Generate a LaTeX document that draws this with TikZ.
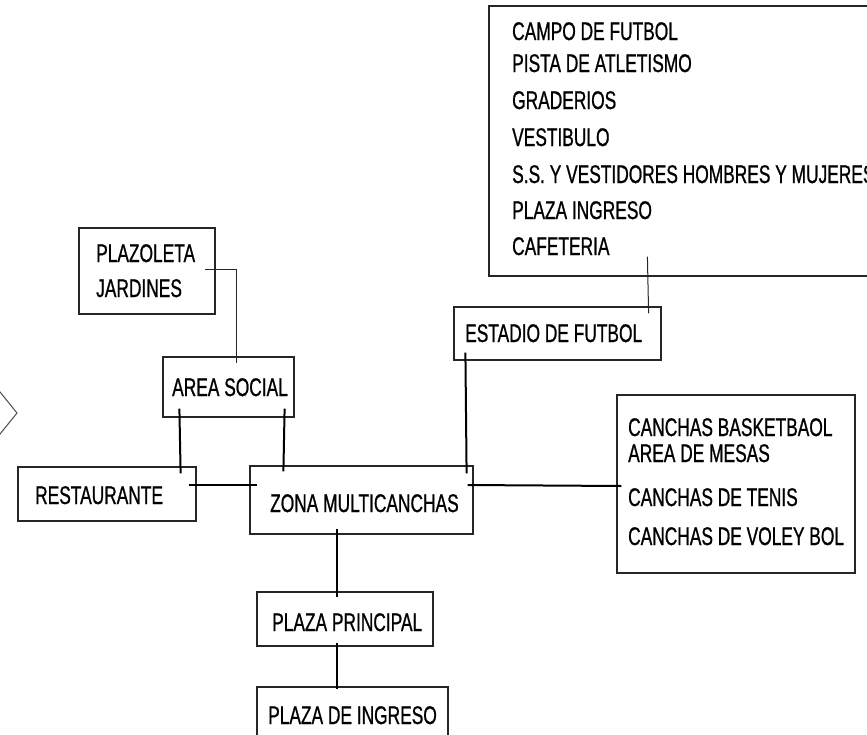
\documentclass[tikz,border=0pt]{standalone}
\usepackage{fontspec}
\setmainfont[FakeStretch=0.68,FakeBold=0.8]{Liberation Sans}
\begin{document}
\begin{tikzpicture}[x=1pt,y=-1pt,
  box/.style={draw=black!85,line width=1.2pt,inner sep=0pt,rectangle},
  txt/.style={anchor=base west,inner sep=0pt,font=\fontsize{25.5}{30}\selectfont},
  thin/.style={line width=1pt,black!85},
  thk/.style={line width=2pt,black}]
\useasboundingbox (0,0) rectangle (867,734);
\clip (0,0) rectangle (867,734);
\fill[white] (0,0) rectangle (867,734);
% boxes
\node[box,minimum width=136pt,minimum height=86pt] (plaz) at (147,271) {};
\node[box,minimum width=131pt,minimum height=60pt] (area) at (228.5,387) {};
\node[box,minimum width=178pt,minimum height=54pt] (rest) at (107,494) {};
\node[box,minimum width=223pt,minimum height=68pt] (zona) at (361.5,500) {};
\node[box,minimum width=207pt,minimum height=53pt] (estadio) at (557.5,333.5) {};
\node[box,minimum width=411pt,minimum height=270pt] (big) at (694.5,141) {};
\node[box,minimum width=238pt,minimum height=178pt] (canchas) at (736,484) {};
\node[box,minimum width=176pt,minimum height=54pt] (pprin) at (345,619) {};
\node[box,minimum width=191pt,minimum height=63pt] (ping) at (352.5,718.5) {};
% texts
\node[txt] (tplaz1) at (96,262) {PLAZOLETA};
\node[txt] (tplaz2) at (96,297) {JARDINES};
\node[txt] (tarea) at (172,396) {AREA SOCIAL};
\node[txt] (trest) at (35,504) {RESTAURANTE};
\node[txt] (tzona) at (270,512) {ZONA MULTICANCHAS};
\node[txt] (testadio) at (465,342) {ESTADIO DE FUTBOL};
\node[txt] (tpprin) at (272,631) {PLAZA PRINCIPAL};
\node[txt] (tping) at (268,724) {PLAZA DE INGRESO};
\node[txt] (b1) at (512,40) {CAMPO DE FUTBOL};
\node[txt] (b2) at (512,72) {PISTA DE ATLETISMO};
\node[txt] (b3) at (512,109) {GRADERIOS};
\node[txt] (b4) at (512,146) {VESTIBULO};
\node[txt] (b5) at (512,183) {S.S. Y VESTIDORES HOMBRES Y MUJERES};
\node[txt] (b6) at (512,219) {PLAZA INGRESO};
\node[txt] (b7) at (512,255) {CAFETERIA};
\node[txt] (c1) at (628,436) {CANCHAS BASKETBAOL};
\node[txt] (c2) at (628,462) {AREA DE MESAS};
\node[txt] (c3) at (628,506) {CANCHAS DE TENIS};
\node[txt] (c4) at (628,545) {CANCHAS DE VOLEY BOL};
% connectors
\draw[thin] ([xshift=-11pt,yshift=2pt]plaz.east) -| ([xshift=7.5pt,yshift=-7pt]area.north);
\draw[thk] ([xshift=17pt,yshift=9pt]area.south west) -- ([xshift=-16pt,yshift=-7pt]rest.north east);
\draw[thk] ([xshift=-10pt,yshift=9pt]area.south east) -- ([xshift=34pt,yshift=-6pt]zona.north west);
\draw[thk] ([xshift=-8pt,yshift=9pt]rest.east) -- ([xshift=8pt,yshift=15pt]zona.west);
\draw[thk] ([xshift=12pt,yshift=8pt]estadio.south west) -- ([xshift=-7pt,yshift=-8pt]zona.north east);
\draw[thk] ([xshift=-6pt,yshift=15pt]zona.east) -- ([xshift=5pt,yshift=-2pt]canchas.west);
\draw[thin] ([xshift=159pt,yshift=20pt]big.south west) -- ([xshift=-13pt,yshift=-7pt]estadio.north east);
\draw[thk] ([xshift=-24.5pt,yshift=6pt]zona.south) -- ([xshift=-8pt,yshift=-6pt]pprin.north);
\draw[thk] ([xshift=-8pt,yshift=4pt]pprin.south) -- ([xshift=-15.5pt,yshift=-3pt]ping.north);
% partial diamond at left edge
\draw[line width=1pt,black!70] (-10,379.6) -- (17,413) -- (-10,446.4);
\end{tikzpicture}
\end{document}
